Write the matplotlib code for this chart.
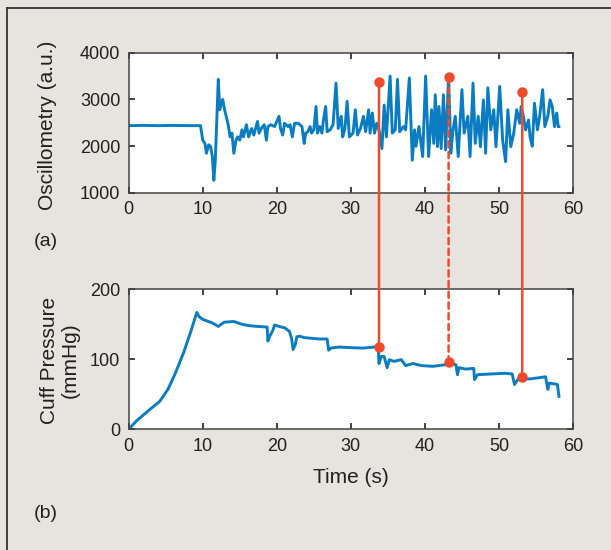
import matplotlib.pyplot as plt
from matplotlib.patches import ConnectionPatch
from matplotlib.lines import Line2D

plt.rcParams['font.family'] = ['Liberation Sans', 'DejaVu Sans']

# Oscillometry signal (a.u.), vertices
t_osc = [0, 2, 4, 6, 8, 9.7, 10.0, 10.3, 10.5, 10.8, 11.05, 11.3, 11.5, 11.7, 11.95,
         12.1, 12.3, 12.5, 12.7, 12.95, 13.4, 13.7, 13.95, 14.2, 14.5, 14.7, 15.0,
         15.3, 15.5, 15.9, 16.2, 16.6, 16.9, 17.4, 17.6, 17.9, 18.3, 18.6, 18.8,
         19.2, 19.7, 20.3, 20.5, 20.8, 21.05, 21.5, 21.8, 22.1, 22.4, 22.9, 23.4,
         23.7, 23.9, 24.2, 24.5, 24.7, 25.0, 25.3, 25.5, 25.8, 26.1, 26.3, 26.6,
         26.8, 27.2, 27.6, 28.0, 28.3, 28.7, 28.9, 29.2, 29.5, 29.8, 30.3, 30.6,
         30.9, 31.3, 31.7, 32.0, 32.4, 32.6, 32.9, 33.2, 33.5, 33.8, 34.2, 34.5,
         34.8, 35.3, 35.6, 36.0, 36.3, 36.6, 37.1, 37.4, 37.9, 38.3, 38.6, 38.8,
         39.2, 39.7, 40.1, 40.5, 40.9, 41.2, 41.4, 41.7, 41.9, 42.2, 42.5, 42.8,
         43.2, 43.5, 43.8, 44.1, 44.5, 45.0, 45.3, 45.8, 46.1, 46.5, 46.8, 47.2,
         47.5, 47.9, 48.2, 48.5, 48.9, 49.3, 49.6, 50.1, 50.5, 50.9, 51.2, 51.6,
         52.0, 52.4, 52.8, 53.0, 53.3, 53.6, 54.0, 54.2, 54.5, 54.8, 55.2, 55.5,
         55.9, 56.2, 56.6, 56.9, 57.2, 57.5, 57.8, 58.0, 58.1]
v_osc = [2440, 2445, 2440, 2445, 2440, 2440, 2130, 2060, 1850, 2030, 2000, 1780, 1270, 1700, 2780,
         3430, 2780, 2920, 3000, 2780, 2490, 2200, 2280, 1850, 2130, 2200, 2130,
         2350, 2200, 2460, 2200, 2380, 2240, 2530, 2280, 2380, 2460, 2130, 2420,
         2460, 2420, 2640, 2380, 2240, 2490, 2420, 2460, 2200, 2490, 2490, 2420,
         2060, 2280, 2310, 2420, 2280, 2350, 2850, 2280, 2420, 2280, 2560, 2850,
         2310, 2350, 2460, 3350, 2380, 2640, 2200, 2380, 2960, 2200, 2280, 2780,
         2240, 2380, 2640, 2310, 2780, 2280, 2710, 2280, 2490, 2350, 1950, 2880,
         2200, 3500, 2280, 2350, 3430, 2310, 2420, 2350, 3460, 1700, 2350, 2000,
         2420, 1780, 3500, 1780, 2780, 2060, 3100, 1990, 2850, 1950, 3100, 1920,
         3500, 1850, 2350, 2640, 1780, 3210, 2280, 2640, 1780, 3350, 2060, 2640,
         1990, 2990, 1850, 3250, 2350, 2780, 1990, 3280, 2130, 1670, 2780, 1990,
         2280, 2780, 2490, 2850, 2640, 2350, 2560, 2200, 2000, 2920, 2350, 2640,
         3210, 2420, 2640, 2990, 2850, 2420, 2710, 2420, 2420]

# Cuff pressure (mmHg)
t_cuff = [0, 1.05, 2.6, 4.2, 5.3, 6.3, 7.4, 8.4, 9.2, 9.5, 10.0, 11.3, 12.1, 12.9,
          14.2, 15.3, 16.3, 17.4, 18.7, 18.8, 19.05, 19.5, 19.7, 20.3, 21.05, 21.7,
          22.0, 22.2, 22.5, 22.7, 23.05, 23.7, 24.7, 25.8, 26.8, 27.0, 27.3, 28.4,
          30.0, 31.6, 33.2, 33.7, 33.8, 34.1, 34.5, 34.9, 35.2, 35.8, 36.8, 37.4,
          38.4, 39.5, 41.1, 42.6, 43.7, 44.2, 44.4, 44.6, 45.5, 46.6, 46.7, 47.1,
          48.9, 50.8, 51.8, 52.1, 52.6, 54.2, 55.3, 56.3, 56.6, 56.8, 57.4, 57.9, 58.1]
p_cuff = [0, 12, 26, 40, 57, 80, 109, 140, 167, 161, 157, 152, 147, 153,
          154, 150, 148, 147, 146, 126, 133, 142, 149, 147, 145, 140,
          130, 114, 121, 132, 133, 131, 130, 129, 129, 113, 116, 117.5,
          116.6, 116, 117.5, 117, 94, 104, 104, 88, 99.5, 97, 99.5, 91,
          94, 91, 90, 92, 94, 92, 78, 88, 86, 87, 71, 78,
          79, 80, 79, 64, 72, 72, 73.5, 75, 57, 66, 65, 64, 47]

# marked beats: time, oscillometry peak, cuff pressure
mark_t = [33.8, 43.2, 53.15]
mark_osc = [3374, 3487, 3160]
mark_cuff = [117.6, 95.7, 74.3]
mark_style = ['-', (0, (2.5, 1.8)), '-']

blue = '#0a7cc2'
red = '#ef4a2b'
txt = '#231f20'

fig = plt.figure(figsize=(6.11, 5.5), dpi=100)
fig.patch.set_facecolor('#e7e3de')

ax1 = fig.add_axes([0.2106, 0.6491, 0.7272, 0.2551])
ax2 = fig.add_axes([0.2106, 0.2195, 0.7272, 0.2545])

ax1.plot(t_osc, v_osc, color=blue, lw=2.1)
ax2.plot(t_cuff, p_cuff, color=blue, lw=2.1)

ax1.set_xlim(0, 60)
ax1.set_ylim(1000, 4000)
ax1.set_yticks([1000, 2000, 3000, 4000])
ax2.set_xlim(0, 60)
ax2.set_ylim(0, 200)
ax2.set_yticks([0, 100, 200])

for ax in (ax1, ax2):
    ax.set_facecolor('white')
    ax.set_xticks(range(0, 61, 10))
    ax.tick_params(direction='in', length=4, width=1.2, top=True, right=True,
                   labelsize=13, colors='#222222', labelcolor=txt, pad=6)
    for s in ax.spines.values():
        s.set_color('#444444')
        s.set_linewidth(1.1)

ax1.set_ylabel('Oscillometry (a.u.)', fontsize=15, color=txt)
ax1.yaxis.set_label_coords(-0.162, 0.485)
ax2.set_ylabel('Cuff Pressure\n(mmHg)', fontsize=15, color=txt, linespacing=1.1)
ax2.yaxis.set_label_coords(-0.11, 0.495)
ax2.set_xlabel('Time (s)', fontsize=15, color=txt, labelpad=10)

fig.text(34 / 611, 1 - 242 / 550, '(a)', fontsize=14, color=txt, va='center')
fig.text(34 / 611, 1 - 514 / 550, '(b)', fontsize=14, color=txt, va='center')

# red lines joining the same beat in both panels
for t, a, b, ls in zip(mark_t, mark_osc, mark_cuff, mark_style):
    con = ConnectionPatch(xyA=(t, a), coordsA=ax1.transData,
                          xyB=(t, b), coordsB=ax2.transData,
                          color=red, lw=1.8, linestyle=ls, zorder=5)
    fig.add_artist(con)
    ax1.plot(t, a, 'o', color=red, ms=6.5, zorder=6, clip_on=False)
    ax2.plot(t, b, 'o', color=red, ms=6.5, zorder=6, clip_on=False)

# frame on left and top edges
x0 = 6.7 / 611
y0 = 1 - 7.5 / 550
fig.add_artist(Line2D([x0, x0], [0, y0], transform=fig.transFigure, color='#333333', lw=1.3))
fig.add_artist(Line2D([x0, 1], [y0, y0], transform=fig.transFigure, color='#333333', lw=1.3))

fig.savefig('out.png', dpi=100, facecolor=fig.get_facecolor())
